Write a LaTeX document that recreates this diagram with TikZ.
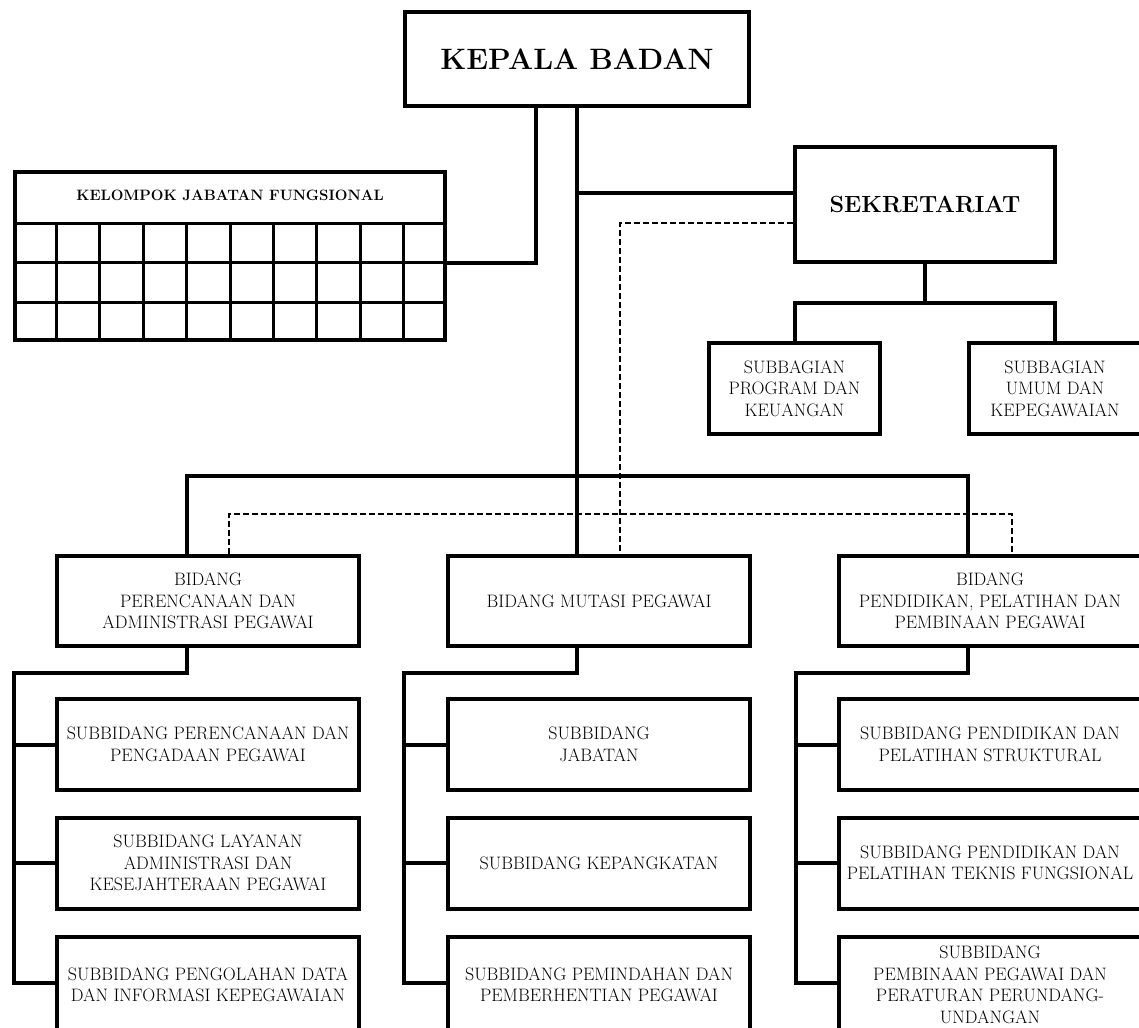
\documentclass[tikz,border=0pt]{standalone}
\usepackage{fontspec}
\begin{document}
\begin{tikzpicture}[x=1pt,y=-1pt,line join=miter,
  box/.style={draw, line width=4pt, inner sep=1pt, align=center, text=black, font=\fontsize{18}{21.5}\selectfont},
  bidang/.style={box, minimum width=302pt, minimum height=90pt},
  subbox/.style={box, minimum width=302pt, minimum height=91pt},
  lastbox/.style={box, minimum width=302pt, minimum height=96pt},
  conn/.style={line width=4pt},
  dsh/.style={line width=2.2pt, dash pattern=on 6pt off 3pt},
  grd/.style={line width=3pt}]
\useasboundingbox (0,0) rectangle (1139,1027);
\fill[white] (0,0) rectangle (1139,1027);
\clip (0,0) rectangle (1139,1027);

% top
\node[box, minimum width=344pt, minimum height=94pt, font=\fontsize{29.5}{34}\selectfont\bfseries] (kb) at (577,59) {KEPALA BADAN};
\node[box, minimum width=260pt, minimum height=115pt, font=\fontsize{23.4}{27}\selectfont\bfseries] (sek) at (925,204.5) {SEKRETARIAT};
\node[box, minimum width=171pt, minimum height=91pt] (sp) at (794.5,388.5) {SUBBAGIAN\\PROGRAM DAN\\KEUANGAN};
\node[box, minimum width=172pt, minimum height=91pt] (su) at (1055,388.5) {SUBBAGIAN\\UMUM DAN\\KEPEGAWAIAN};

% kelompok jabatan fungsional
\node[draw, line width=4pt, minimum width=430pt, minimum height=168pt, inner sep=0pt] (kjf) at (230,256) {};
\node[font=\fontsize{15}{17}\selectfont\bfseries, text=black] (kjft) at (230,195) {KELOMPOK JABATAN FUNGSIONAL};
\draw[grd] (kjf.west |- 0,223) -- (kjf.east |- 0,223);
\draw[grd] (kjf.west |- 0,262) -- (kjf.east |- 0,262);
\draw[grd] (kjf.west |- 0,302) -- (kjf.east |- 0,302);
\foreach \k in {1,...,9} {
  \draw[grd] (13+43.4*\k,223) -- (13+43.4*\k,340);
}

% bidang
\node[bidang] (bp) at (208,601) {BIDANG\\PERENCANAAN DAN\\ADMINISTRASI PEGAWAI};
\node[bidang] (bm) at (599,601) {BIDANG MUTASI PEGAWAI};
\node[bidang] (bd) at (990,601) {BIDANG\\PENDIDIKAN, PELATIHAN DAN\\PEMBINAAN PEGAWAI};

% subbidang
\node[subbox] (pa) at (208,744.5) {SUBBIDANG PERENCANAAN DAN\\PENGADAAN PEGAWAI};
\node[subbox] (pb) at (208,863) {SUBBIDANG LAYANAN\\ADMINISTRASI DAN\\KESEJAHTERAAN PEGAWAI};
\node[lastbox] (pc) at (208,985) {SUBBIDANG PENGOLAHAN DATA\\DAN INFORMASI KEPEGAWAIAN};
\node[subbox] (ma) at (599,744.5) {SUBBIDANG\\JABATAN};
\node[subbox] (mb) at (599,863) {SUBBIDANG KEPANGKATAN};
\node[lastbox] (mc) at (599,985) {SUBBIDANG PEMINDAHAN DAN\\PEMBERHENTIAN PEGAWAI};
\node[subbox] (da) at (990,744.5) {SUBBIDANG PENDIDIKAN DAN\\PELATIHAN STRUKTURAL};
\node[subbox] (db) at (990,863) {SUBBIDANG PENDIDIKAN DAN\\PELATIHAN TEKNIS FUNGSIONAL};
\node[lastbox] (dc) at (990,985) {SUBBIDANG\\PEMBINAAN PEGAWAI DAN\\PERATURAN PERUNDANG-\\UNDANGAN};

% connectors top
\coordinate (j1) at (536,263);
\draw[conn] (kb.south -| j1) -- (j1) -- (kjf.east |- j1);
\coordinate (j2) at (577,193);
\draw[conn] (kb.south -| j2) -- (bm.north -| j2);
\draw[conn] (j2) -- (sek.west |- j2);
\coordinate (bl) at (187,476);
\coordinate (br) at (968,476);
\draw[conn] (bp.north -| bl) -- (bl) -- (br) -- (bd.north -| br);
\coordinate (sj) at (925,303);
\draw[conn] (sek.south) -- (sj);
\draw[conn] (sp.north) |- (sj) -| (su.north);

% dashed
\coordinate (dv) at (620,223);
\draw[dsh] (sek.west |- dv) -- (dv) -- (bm.north -| dv);
\coordinate (dl) at (229,514);
\coordinate (dr) at (1012,514);
\draw[dsh] (bp.north -| dl) -- (dl) -- (dr) -- (bd.north -| dr);

% column connectors
\coordinate (lt) at (187,673); \coordinate (lb) at (14,673);
\coordinate (l3) at (14,983);
\draw[conn] (bp.south -| lt) -- (lt) -- (lb) -- (l3) -- (pc.west |- l3);
\draw[conn] (pa.west -| lb) -- (pa.west);
\draw[conn] (pb.west -| lb) -- (pb.west);
\coordinate (mt) at (577,673); \coordinate (mbb) at (404,673);
\coordinate (m3) at (404,983);
\draw[conn] (bm.south -| mt) -- (mt) -- (mbb) -- (m3) -- (mc.west |- m3);
\draw[conn] (ma.west -| mbb) -- (ma.west);
\draw[conn] (mb.west -| mbb) -- (mb.west);
\coordinate (dt) at (968,673); \coordinate (dbb) at (796,673);
\coordinate (d3) at (796,983);
\draw[conn] (bd.south -| dt) -- (dt) -- (dbb) -- (d3) -- (dc.west |- d3);
\draw[conn] (da.west -| dbb) -- (da.west);
\draw[conn] (db.west -| dbb) -- (db.west);
\end{tikzpicture}
\end{document}
